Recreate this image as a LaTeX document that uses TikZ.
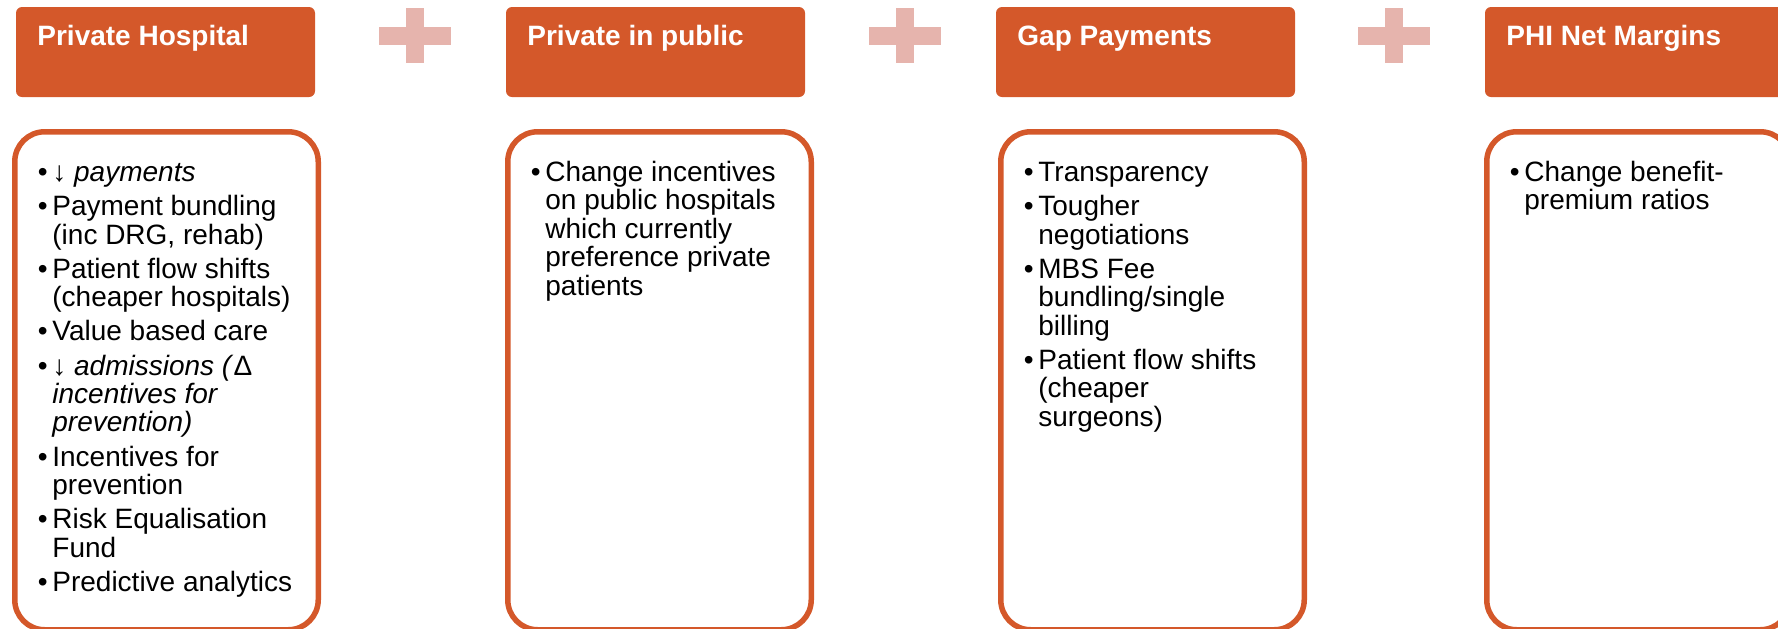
\documentclass[tikz,border=0pt]{standalone}
\usepackage{fontspec}
\setmainfont{Liberation Sans}
\usetikzlibrary{positioning}
\definecolor{rust}{RGB}{212,88,42}
\definecolor{pinkish}{RGB}{230,180,173}
\newcommand{\itembul}{\llap{\textbullet\hspace{2.4pt}}}
\newcommand{\topstrut}{\rule{0pt}{12pt}}

\begin{document}
\begin{tikzpicture}[x=0.5pt,y=-0.5pt,
  headbox/.style={fill=rust,rounded corners=3pt,minimum width=149.5pt,minimum height=45pt,inner sep=0pt,outer sep=0pt,anchor=north west},
  headtext/.style={text=white,font=\bfseries\fontsize{14}{16}\selectfont,inner sep=0pt,anchor=base west},
  bodybox/.style={draw=rust,line width=2.75pt,rounded corners=15pt,minimum width=151.75pt,minimum height=249pt,inner sep=0pt,outer sep=0pt,anchor=north west},
  bodytext/.style={align=left,font=\fontsize{14}{14.2}\selectfont,inner sep=0pt,anchor=north west}]
\useasboundingbox (0,0) rectangle (1778,628);
\clip (0,0) rectangle (1778,628);
% plus signs between the headers
\foreach \cx in {415,905,1394}{
  \fill [pinkish] (\cx-9,8) rectangle (\cx+9,63);
  \fill [pinkish] (\cx-36,27) rectangle (\cx+36,45);
}
% headers
\foreach \hx/\nm/\lbl in {16/h1/Private Hospital,506/h2/Private in public,996/h3/Gap Payments,1485/h4/PHI Net Margins}{
  \node [headbox] (\nm) at (\hx,7) {};
  \node [headtext] (\nm t) at (\hx+21,45) {\lbl};
}
% body boxes
\foreach \bx/\nm in {14.75/b1,507.75/b2,1000.75/b3,1486.75/b4}{
  \node [bodybox] (\nm) at (\bx,131.75) {};
}
% lists (first baseline at y=181)
\node [bodytext] (b1t) at (52,157) {\topstrut\itembul↓ \textit{payments}\\[2.9pt]
  \itembul Payment bundling\\(inc DRG, rehab)\\[2.9pt]
  \itembul Patient flow shifts\\(cheaper hospitals)\\[2.9pt]
  \itembul Value based care\\[2.9pt]
  \itembul↓ \textit{admissions (}Δ\\\textit{incentives for}\\\textit{prevention)}\\[2.9pt]
  \itembul Incentives for\\prevention\\[2.9pt]
  \itembul Risk Equalisation\\Fund\\[2.9pt]
  \itembul Predictive analytics};
\node [bodytext] (b2t) at (545,157) {\topstrut\itembul Change incentives\\on public hospitals\\which currently\\preference private\\patients};
\node [bodytext] (b3t) at (1038,157) {\topstrut\itembul Transparency\\[2.9pt]
  \itembul Tougher\\negotiations\\[2.9pt]
  \itembul MBS Fee\\bundling/single\\billing\\[2.9pt]
  \itembul Patient flow shifts\\(cheaper\\surgeons)};
\node [bodytext] (b4t) at (1524,157) {\topstrut\itembul Change benefit-\\premium ratios};
\end{tikzpicture}
\end{document}
